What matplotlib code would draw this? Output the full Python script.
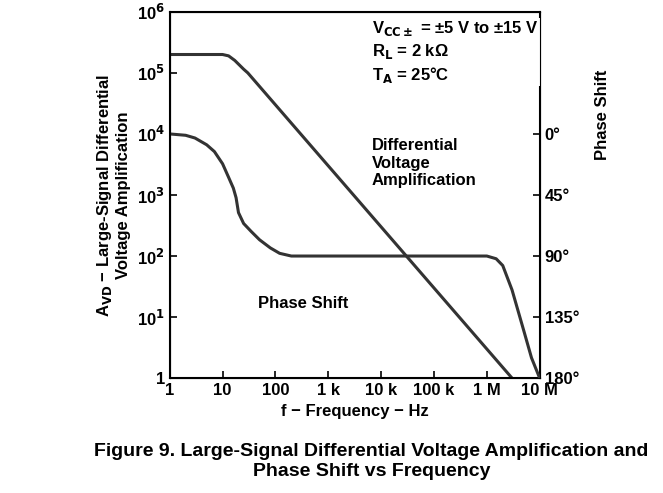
import matplotlib.pyplot as plt

plt.rcParams['font.family'] = ['Liberation Sans', 'DejaVu Sans']
plt.rcParams['font.weight'] = 'bold'

gain_f = [1, 10, 13, 17, 25, 30, 3e3, 3e5, 3e6]
gain_v = [2e5, 2e5, 1.9e5, 1.6e5, 1.15e5, 1e5, 1e3, 10, 1]

phase_f = [1, 2, 3, 5, 7, 10, 13, 16, 18, 20, 25, 35, 50, 80, 120, 200,
           1e6, 1.5e6, 2e6, 3e6, 5e6, 7e6, 1e7]
phase_v = [0, 1, 3, 8, 13, 22, 32, 40, 47, 58, 66, 72, 78, 84, 88, 90,
           90, 92, 97, 115, 145, 165, 180]

xticks = [1, 10, 100, 1e3, 1e4, 1e5, 1e6, 1e7]
xlabels = ['1', '10', '100', '1 k', '10 k', '100 k', '1 M', '10 M']
yticks = [1, 10, 100, 1e3, 1e4, 1e5, 1e6]
ylabels = ['1', '10$^1$', '10$^2$', '10$^3$', '10$^4$', '10$^5$', '10$^6$']
pticks = [0, 45, 90, 135, 180]

fig = plt.figure(figsize=(6.63, 4.93), dpi=100)
ax = fig.add_axes([0.256, 0.233, 0.558, 0.743])
ax.plot(gain_f, gain_v, color='#333333', lw=2.2, zorder=1)
ax.set_xscale('log'); ax.set_yscale('log')
ax.set_xlim(1, 1e7); ax.set_ylim(1, 1e6)
ax.set_xticks(xticks, xlabels, fontsize=12)
ax.set_yticks(yticks, ylabels, fontsize=12)
ax.minorticks_off()
ax.tick_params(direction='in', length=5, width=1.2)
for s in ax.spines.values():
    s.set_linewidth(1.5)
ax.set_xlabel('f − Frequency − Hz', fontsize=12, fontweight='bold')
ax.set_ylabel('A$_{\\mathbf{VD}}$ − Large-Signal Differential\nVoltage Amplification',
              fontsize=12, fontweight='bold')

ax2 = ax.twinx()
ax2.plot(phase_f, phase_v, color='#333333', lw=2.2)
ax2.set_ylim(180, -90)
ax2.set_yticks(pticks, [f'{p}°' for p in pticks], fontsize=12)
ax2.tick_params(direction='in', length=5, width=1.2)
ax2.set_ylabel('Phase Shift', fontsize=12, fontweight='bold')
ax2.yaxis.set_label_coords(1.15, 0.72)

ax.text(6.6e3, 7.5e5, 'V$_{\\mathbf{CC\\pm}}$ = ±5 V to ±15 V\nR$_{\\mathbf{L}}$ = 2 kΩ\nT$_{\\mathbf{A}}$ = 25°C',
        fontsize=12, va='top', linespacing=1.25, zorder=3,
        bbox=dict(facecolor='white', edgecolor='none', pad=1))
ax.text(6.6e3, 8.5e3, 'Differential\nVoltage\nAmplification', fontsize=12, va='top')
ax.text(46, 14, 'Phase Shift', fontsize=12)

fig.text(0.56, 0.035, 'Figure 9. Large-Signal Differential Voltage Amplification and\nPhase Shift vs Frequency',
         ha='center', fontsize=14, fontweight='bold')
fig.savefig('out.png')
